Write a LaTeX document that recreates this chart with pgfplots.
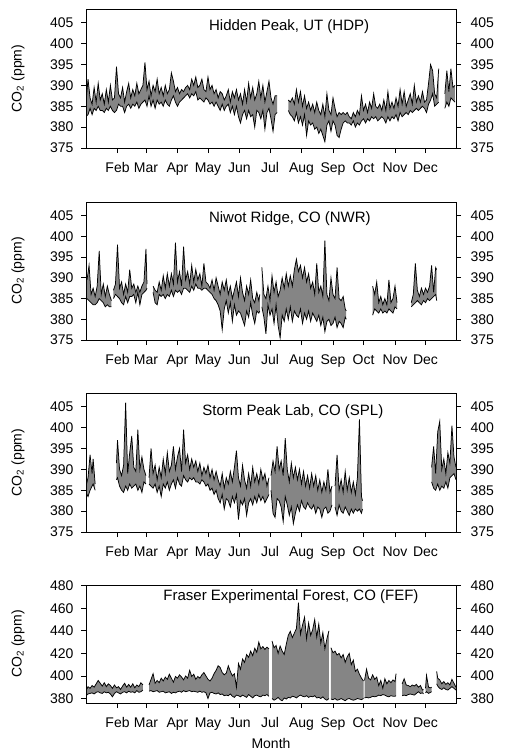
\documentclass[border=0pt]{standalone}
\usepackage{fontspec}
\setmainfont{Liberation Sans}
\usepackage{pgfplots}
\pgfplotsset{compat=1.18}
\usepackage{pgfplotstable}
\usepgfplotslibrary{fillbetween}

\newcommand\lab{\fontsize{14pt}{17pt}\selectfont}
\newcommand\ttl{\fontsize{15pt}{18pt}\selectfont}

% Daily CO2 envelopes (upper / lower), ppm, by day of year
\pgfplotstableread{
d hi lo
1 386.0 382.5
3 391.5 383.0
5 387.0 384.5
7 385.5 383.0
9 389.5 384.5
11 386.0 384.0
13 390.5 385.0
15 386.5 384.0
17 388.0 384.0
19 385.5 383.5
21 389.0 384.5
23 386.0 384.0
25 390.0 385.0
27 386.5 384.0
29 387.0 383.5
31 394.5 384.0
33 388.0 385.5
35 387.0 385.0
37 389.5 385.0
39 386.0 383.5
41 388.5 385.0
43 390.5 385.5
45 387.0 384.5
47 389.0 385.5
49 387.5 385.0
51 390.5 386.0
53 388.0 384.5
55 389.0 385.5
57 390.0 386.0
59 395.5 386.5
61 389.0 385.0
63 391.0 387.5
65 387.5 385.0
67 390.0 386.5
69 388.5 384.5
71 391.5 386.5
73 388.0 385.5
75 389.5 386.0
77 387.5 385.0
79 390.0 386.5
81 388.0 385.5
83 389.0 385.0
85 393.0 386.5
87 391.0 387.5
89 388.5 386.0
91 389.5 385.0
93 388.0 386.0
95 389.0 386.5
97 388.5 387.0
99 389.5 387.5
101 390.0 388.0
103 389.0 387.0
105 391.5 388.0
107 390.0 387.5
109 392.0 388.5
111 389.5 386.5
113 390.0 387.0
115 391.5 386.5
117 389.0 386.0
119 388.5 387.0
121 392.0 386.5
123 389.0 385.5
125 390.0 386.0
127 388.0 385.0
129 389.0 386.0
131 387.0 385.0
133 388.5 384.0
135 388.0 385.5
137 386.5 384.0
139 387.5 385.0
141 389.0 385.5
143 386.0 383.5
145 388.5 385.0
147 387.0 383.0
149 389.0 385.0
151 386.5 382.5
153 388.0 381.0
155 385.5 383.0
157 389.0 384.0
159 386.0 382.0
161 390.5 384.0
163 387.0 382.5
165 389.5 383.0
167 386.5 380.0
169 388.0 384.0
171 391.0 383.5
173 387.0 382.0
175 390.0 384.0
177 386.0 379.5
179 388.5 383.5
181 391.0 384.5
183 387.0 382.0
185 385.5 379.0
187 387.5 383.0
189 387.5 383.5
200 386.5 384.0
202 386.0 383.0
204 387.0 382.5
206 385.5 381.5
208 389.0 383.5
210 386.0 381.0
212 388.5 382.5
214 385.0 380.5
216 387.5 383.0
218 384.5 378.0
220 386.0 381.5
222 384.0 380.5
224 385.5 381.0
226 383.5 379.5
228 386.0 380.0
230 384.0 378.5
232 383.0 379.5
234 385.5 378.0
236 382.5 376.5
238 388.0 380.5
240 384.0 381.5
242 383.0 379.0
244 387.0 381.5
246 384.5 380.5
248 382.5 378.0
250 383.5 377.5
252 383.0 379.5
254 383.5 381.0
256 383.0 381.5
258 383.5 381.0
260 382.5 381.0
262 382.0 380.5
264 383.5 381.5
266 382.5 380.0
268 384.0 381.0
270 383.0 380.5
272 387.5 381.5
274 384.0 382.0
276 385.5 381.0
278 383.5 382.0
280 386.0 381.5
282 384.5 382.5
284 388.0 382.0
286 385.0 382.5
288 384.5 381.5
290 385.5 382.0
292 384.0 382.5
294 386.5 382.0
296 384.0 381.0
298 388.5 382.5
300 384.5 381.5
302 386.0 382.5
304 384.5 382.0
306 387.0 383.0
308 385.0 381.5
310 389.0 383.5
312 385.5 382.5
314 388.5 383.0
316 385.0 383.5
318 386.5 383.0
320 388.0 384.0
322 385.5 383.5
324 390.0 384.0
326 386.0 384.5
328 387.5 384.0
330 386.0 384.5
332 388.5 385.0
334 386.0 384.5
336 386.5 383.5
338 390.5 385.5
340 395.0 386.5
342 393.5 388.0
344 388.0 385.0
346 387.0 385.5
348 394.0 386.0
354 388.0 384.5
356 393.5 386.0
358 388.5 385.0
360 394.0 387.0
362 389.5 386.5
364 390.0 386.0
}\hdp

\pgfplotstableread{
d hi lo
2 389.5 385.0
4 393.0 384.5
6 386.0 384.0
8 387.5 383.5
10 385.5 383.5
12 388.0 384.0
14 396.5 385.0
16 386.0 384.5
18 388.5 384.0
20 385.5 383.0
22 388.0 383.5
24 386.0 383.0
26 384.5 383.0
28 387.0 385.0
30 388.5 386.0
32 398.0 385.5
34 387.5 385.0
36 389.0 384.0
38 386.0 383.5
40 388.5 385.5
42 386.5 384.0
44 392.0 385.5
46 387.5 385.5
48 388.5 386.0
50 386.5 384.0
52 388.0 386.5
54 386.5 383.5
56 388.0 386.0
58 389.0 386.5
60 397.0 387.0
61 388.5 387.5
67 388.0 386.5
69 387.0 384.0
71 386.5 383.5
73 389.0 386.0
75 387.0 385.5
77 390.5 386.0
79 387.5 385.0
81 391.0 386.0
83 388.0 385.5
85 391.0 387.0
87 388.5 385.5
89 398.5 387.0
91 389.0 386.5
93 391.5 387.0
95 388.0 386.0
97 397.5 387.5
99 389.5 387.5
101 391.5 387.0
103 388.5 386.5
105 393.0 388.0
107 389.0 387.0
109 392.0 388.5
111 389.5 387.5
113 391.0 387.5
115 388.0 387.0
117 393.5 387.5
119 389.0 387.5
121 388.5 387.0
123 387.5 386.5
125 389.5 386.0
127 387.0 385.0
129 390.0 384.5
131 388.0 383.5
133 386.0 382.0
135 389.0 377.5
137 387.0 382.5
139 389.5 384.5
141 386.0 381.5
143 388.0 384.0
145 385.0 379.5
147 387.0 383.5
149 389.0 381.0
151 385.5 382.0
153 390.0 381.5
155 386.5 380.0
157 384.5 378.5
159 388.0 382.0
161 386.0 380.5
163 389.5 384.0
165 385.0 381.0
167 384.0 379.0
169 386.5 382.0
171 384.5 381.5
172 386.0 382.0
174 392.5 383.0
176 386.0 380.5
178 385.0 376.5
180 388.0 383.5
182 384.5 381.0
184 390.5 382.5
186 386.5 379.0
188 389.0 383.5
190 385.5 378.5
192 387.0 375.5
194 390.0 381.0
196 387.5 379.5
198 391.0 382.5
200 388.0 380.0
202 390.5 383.0
204 388.0 379.5
206 392.0 382.0
208 394.5 381.0
210 391.5 380.5
212 393.0 382.5
214 390.0 379.0
216 392.5 381.5
218 389.0 380.0
220 391.0 382.0
222 387.5 379.5
224 389.0 381.5
226 386.0 380.5
228 393.5 379.5
230 386.5 381.0
232 388.0 378.5
234 385.5 380.5
236 399.0 377.0
238 386.0 379.5
240 384.5 380.0
242 390.0 378.5
244 386.0 379.0
246 385.0 380.5
248 392.5 378.0
250 385.0 379.5
252 384.5 379.0
254 385.5 378.0
256 382.5 380.5
257 382.0 380.0
283 388.0 381.0
285 386.0 382.5
287 389.0 382.0
289 384.0 381.5
291 385.5 382.5
293 383.5 381.5
295 385.0 382.0
297 383.5 381.5
299 389.5 382.5
301 384.0 382.0
303 385.0 381.5
305 388.0 383.0
307 384.0 382.5
321 384.0 383.0
323 386.0 383.5
325 393.5 384.0
327 387.0 384.5
329 385.5 384.0
331 387.5 383.5
333 386.0 384.5
335 387.5 384.0
337 386.5 385.0
339 388.0 384.5
341 393.0 385.0
343 386.5 385.5
345 392.5 386.0
346 392.0 384.5
}\nwr

\pgfplotstableread{
d hi lo
1 386.0 384.5
3 388.0 383.5
5 393.5 385.0
7 389.0 386.0
8 392.5 386.5
10 386.5 385.0
31 391.5 387.5
32 397.0 388.0
34 390.0 386.0
36 388.5 385.0
38 391.0 384.5
40 406.0 386.0
42 389.0 385.0
44 394.0 386.5
46 398.0 385.5
48 390.5 386.0
50 389.5 386.5
52 399.5 385.0
54 390.0 386.0
56 393.0 384.5
58 390.0 387.0
60 388.5 386.5
63 388.0 386.5
65 395.0 386.0
67 389.0 385.5
69 391.0 386.5
71 387.5 384.5
73 390.5 386.0
75 388.0 383.5
77 392.5 386.5
79 389.0 385.5
81 394.0 387.0
83 389.5 385.0
85 391.0 386.5
87 395.5 387.5
89 390.0 385.5
91 393.0 388.0
93 395.0 386.5
95 389.5 386.0
97 399.5 388.5
99 391.5 387.5
101 393.5 387.0
103 390.0 388.0
105 392.5 387.5
107 390.5 388.0
109 392.0 387.0
111 389.5 387.0
113 391.5 386.5
115 388.5 387.5
117 390.5 387.0
119 389.0 386.0
121 391.0 386.5
123 388.0 385.0
125 390.0 385.5
127 387.5 384.0
129 389.5 385.0
131 387.5 383.0
133 386.0 382.0
135 389.0 384.0
137 385.5 380.5
139 388.0 383.0
141 386.5 382.5
143 389.5 381.0
145 387.0 383.5
147 390.5 382.0
149 394.5 384.0
151 388.0 378.0
153 386.0 382.5
155 391.0 381.5
157 387.5 383.0
159 385.5 379.0
161 389.0 382.0
163 386.0 383.0
165 390.5 381.5
167 387.0 383.5
169 389.0 382.0
171 386.5 384.0
173 390.0 382.5
175 387.5 383.5
177 389.0 382.0
179 386.0 383.0
181 388.0 384.0
183 388.5 385.0
185 392.0 379.5
187 389.5 378.5
189 395.5 383.0
191 390.0 382.5
193 392.0 381.0
195 388.5 377.5
197 397.5 383.5
199 390.0 381.5
201 387.0 379.0
203 391.5 381.0
205 388.0 377.0
207 390.5 379.5
209 387.5 381.5
211 390.0 380.0
213 386.5 382.5
215 389.5 381.0
217 386.0 380.5
219 388.5 382.0
221 385.5 381.0
223 389.0 380.5
225 386.0 381.5
227 388.5 379.5
229 385.0 381.0
231 387.5 380.5
233 384.5 378.5
235 387.0 380.5
237 385.0 381.0
239 390.0 379.5
241 384.5 380.0
243 386.0 381.5
246 386.0 381.0
248 393.5 379.0
250 385.0 381.5
252 387.5 380.0
254 384.5 379.5
256 389.5 381.0
258 385.0 380.0
260 388.0 379.0
262 384.5 380.5
264 387.0 379.5
266 384.0 380.5
268 388.0 380.0
270 402.0 380.5
272 383.5 379.5
273 382.5 380.5
341 390.5 387.0
343 395.5 385.5
345 389.0 385.0
347 399.0 386.5
349 401.5 385.0
351 390.0 386.0
353 392.5 385.5
355 389.0 387.0
357 394.0 385.5
359 391.5 388.0
361 400.5 388.5
363 393.0 389.0
365 390.5 387.5
}\spl

\pgfplotstableread{
d hi lo
1 387.0 382.5
3 390.5 384.0
5 389.0 384.5
7 391.5 385.0
9 390.0 384.0
11 393.0 385.5
13 396.0 386.0
15 393.5 385.0
17 391.0 384.5
19 394.0 386.0
21 390.5 385.0
23 393.0 385.5
25 391.5 384.0
27 389.0 381.5
29 392.0 384.5
31 389.5 386.0
33 390.5 385.0
35 388.0 384.0
37 391.0 385.5
39 393.5 386.0
41 390.0 385.0
43 392.5 386.5
45 390.0 385.5
47 393.0 386.0
49 389.5 385.0
51 392.0 387.0
53 390.5 385.5
55 394.0 386.0
57 392.0 387.5
63 392.0 386.5
65 397.0 387.0
67 402.0 386.0
69 393.5 386.5
71 396.0 387.0
73 394.0 385.5
75 398.0 386.0
77 395.5 386.5
79 399.0 385.0
81 397.0 385.5
83 401.5 386.0
85 398.0 384.5
87 394.5 385.5
89 399.5 385.0
91 398.0 386.0
93 401.0 386.5
95 399.0 385.5
97 396.5 387.0
99 400.0 386.0
101 398.0 386.5
103 405.0 387.0
105 399.5 386.0
107 401.5 386.5
109 397.0 386.0
111 399.5 385.5
113 398.0 386.5
115 401.0 385.5
117 403.0 386.0
119 400.0 385.0
121 397.0 380.0
123 395.5 385.0
125 398.0 385.5
127 402.0 384.5
129 405.0 384.0
131 409.0 385.0
133 407.5 383.5
135 403.0 384.0
137 401.0 382.5
139 402.5 383.0
141 409.0 382.5
143 404.0 384.0
145 400.0 382.0
147 402.0 381.0
149 390.0 383.0
151 411.0 382.5
153 406.0 381.5
155 415.0 383.0
157 412.0 382.0
159 419.0 381.0
161 416.5 383.5
163 422.0 382.0
165 418.0 380.5
167 424.5 382.5
169 421.0 383.0
171 430.0 382.0
173 424.0 381.5
175 426.0 383.0
177 423.5 382.5
179 425.5 383.5
181 424.0 382.0
184 431.0 380.0
186 425.0 378.5
188 427.0 379.5
190 420.0 381.0
192 426.5 379.0
194 422.0 378.0
196 419.0 380.5
198 428.0 379.5
200 436.0 381.0
202 439.5 380.5
204 434.0 382.0
206 438.0 381.5
208 442.0 380.5
210 465.0 382.0
212 437.0 383.0
214 445.0 382.0
216 452.0 381.5
218 433.0 382.5
220 447.0 381.0
222 436.0 382.0
224 441.0 381.5
226 450.0 382.5
228 434.5 380.5
230 446.0 381.0
232 429.0 380.0
234 438.5 381.5
236 424.0 379.5
238 433.0 378.5
240 440.0 380.0
242 425.0 379.5
244 420.5 379.0
246 422.0 380.0
248 418.5 378.5
250 420.0 379.0
252 416.0 380.0
254 419.0 379.0
256 412.0 378.0
258 417.0 379.5
260 420.0 380.0
262 410.0 379.0
264 414.0 378.5
266 404.0 379.0
268 406.0 380.0
270 401.5 379.5
272 398.0 379.0
274 395.5 380.0
275 396.0 380.5
277 406.0 381.0
279 398.0 380.5
281 396.5 381.0
283 401.0 382.0
285 397.0 381.5
287 399.0 382.0
289 391.5 383.0
291 396.0 382.5
293 389.0 383.5
295 397.5 383.0
297 393.0 382.0
299 396.0 381.5
301 394.0 382.5
303 396.5 382.0
305 395.0 382.0
306 402.0 382.5
312 393.0 382.5
314 397.5 383.0
316 392.0 382.5
318 391.5 383.5
320 390.5 384.0
322 392.0 383.5
324 391.0 383.0
326 392.5 384.5
328 390.0 386.0
330 391.5 384.5
332 387.5 385.0
333 388.0 384.0
335 389.0 385.0
336 400.5 386.0
338 390.0 384.5
340 389.5 385.5
341 390.0 386.0
346 404.0 393.0
347 398.0 391.0
349 396.5 389.0
351 393.0 388.0
353 395.0 389.5
355 392.5 388.0
357 394.0 387.5
359 392.0 389.0
361 397.0 390.5
363 393.5 389.0
365 390.0 387.5
}\fef

\pgfplotsset{
  co2panel/.style={
    scale only axis, width=370pt, anchor=south west,
    xmin=1, xmax=365,
    xtick={32,60,91,121,152,182,213,244,274,305,335},
    xticklabels={Feb,Mar,Apr,May,Jun,Jul,Aug,Sep,Oct,Nov,Dec},
    yticklabel={\pgfmathparse{int(round(\tick))}\pgfmathresult},
    tick align=outside, major tick length=5pt,
    tick label style={font=\lab},
    xticklabel style={yshift=-6pt},
    label style={font=\lab},
    axis line style={line width=0.8pt},
    every tick/.style={black, line width=0.8pt},
  },
  leftaxis/.style={co2panel,
    xtick pos=left, ytick pos=left,
    yticklabel style={xshift=-4pt},
    ylabel={CO\textsubscript{2} (ppm)},
    ylabel style={at={(axis description cs:-0.184,0.5)}, anchor=center},
  },
  rightaxis/.style={co2panel,
    xtick=\empty, xticklabels={}, ytick pos=right, yticklabel pos=right,
    yticklabel style={xshift=6pt},
  },
  bandfill/.style={fill=black!48, draw=none},
  bandline/.style={black, line width=0.75pt, mark=none, forget plot},
}

% one continuous stretch of record: shaded band plus its two envelopes
\newcommand\band[4]{%
  \addplot[draw=none, name path=hi#2, forget plot]
    table[x=d, y=hi, restrict x to domain=#3:#4] {#1};
  \addplot[draw=none, name path=lo#2, forget plot]
    table[x=d, y=lo, restrict x to domain=#3:#4] {#1};
  \addplot[bandfill, forget plot] fill between[of=hi#2 and lo#2];
  \addplot[bandline] table[x=d, y=hi, restrict x to domain=#3:#4] {#1};
  \addplot[bandline] table[x=d, y=lo, restrict x to domain=#3:#4] {#1};
}

\begin{document}
\begin{tikzpicture}
% page frame
\path (0pt,0pt) rectangle (505pt,-755pt);

% Hidden Peak
\begin{axis}[leftaxis, at={(86pt,-148pt)}, height=139pt,
  ymin=375, ymax=408.3, ytick={375,380,...,405}]
  \band{\hdp}{a}{0}{192}
  \band{\hdp}{b}{198}{350}
  \band{\hdp}{c}{352}{366}
  \node[font=\ttl] at (rel axis cs:0.549,0.87) {Hidden Peak, UT (HDP)};
\end{axis}
\begin{axis}[rightaxis, at={(86pt,-148pt)}, height=139pt,
  ymin=375, ymax=408.3, ytick={375,380,...,405}]
  \addplot[draw=none, forget plot] coordinates {(100,380) (200,400)};
\end{axis}

% Niwot Ridge
\begin{axis}[leftaxis, at={(86pt,-340pt)}, height=138pt,
  ymin=375, ymax=408.3, ytick={375,380,...,405}]
  \band{\nwr}{a}{0}{27}
  \band{\nwr}{b}{27.5}{62}
  \band{\nwr}{c}{66}{172.5}
  \band{\nwr}{d}{173}{258}
  \band{\nwr}{e}{280}{310}
  \band{\nwr}{f}{318}{350}
  \node[font=\ttl] at (rel axis cs:0.551,0.877) {Niwot Ridge, CO (NWR)};
\end{axis}
\begin{axis}[rightaxis, at={(86pt,-340pt)}, height=138pt,
  ymin=375, ymax=408.3, ytick={375,380,...,405}]
  \addplot[draw=none, forget plot] coordinates {(100,380) (200,400)};
\end{axis}

% Storm Peak Lab
\begin{axis}[leftaxis, at={(86pt,-532pt)}, height=139pt,
  ymin=375, ymax=408.3, ytick={375,380,...,405}]
  \band{\spl}{a}{0}{12}
  \band{\spl}{b}{30}{61}
  \band{\spl}{c}{62}{182}
  \band{\spl}{d}{182.5}{244}
  \band{\spl}{e}{245}{275}
  \band{\spl}{f}{340}{366}
  \node[font=\ttl] at (rel axis cs:0.559,0.863) {Storm Peak Lab, CO (SPL)};
\end{axis}
\begin{axis}[rightaxis, at={(86pt,-532pt)}, height=139pt,
  ymin=375, ymax=408.3, ytick={375,380,...,405}]
  \addplot[draw=none, forget plot] coordinates {(100,380) (200,400)};
\end{axis}

% Fraser Experimental Forest
\begin{axis}[leftaxis, at={(86pt,-703pt)}, height=118pt,
  ymin=376, ymax=480.6, ytick={380,400,...,480},
  xlabel=Month, xlabel style={at={(axis description cs:0.5,-0.347)}, anchor=center}]
  \band{\fef}{a}{0}{58}
  \band{\fef}{b}{62}{182}
  \band{\fef}{c}{183}{241}
  \band{\fef}{d}{241.5}{274.5}
  \band{\fef}{e}{274.8}{307}
  \band{\fef}{f}{310}{333.5}
  \band{\fef}{g}{334.5}{342}
  \band{\fef}{h}{345}{366}
  \node[font=\ttl] at (rel axis cs:0.554,0.898) {Fraser Experimental Forest, CO (FEF)};
\end{axis}
\begin{axis}[rightaxis, at={(86pt,-703pt)}, height=118pt,
  ymin=376, ymax=480.6, ytick={380,400,...,480}]
  \addplot[draw=none, forget plot] coordinates {(100,400) (200,440)};
\end{axis}
\end{tikzpicture}
\end{document}
